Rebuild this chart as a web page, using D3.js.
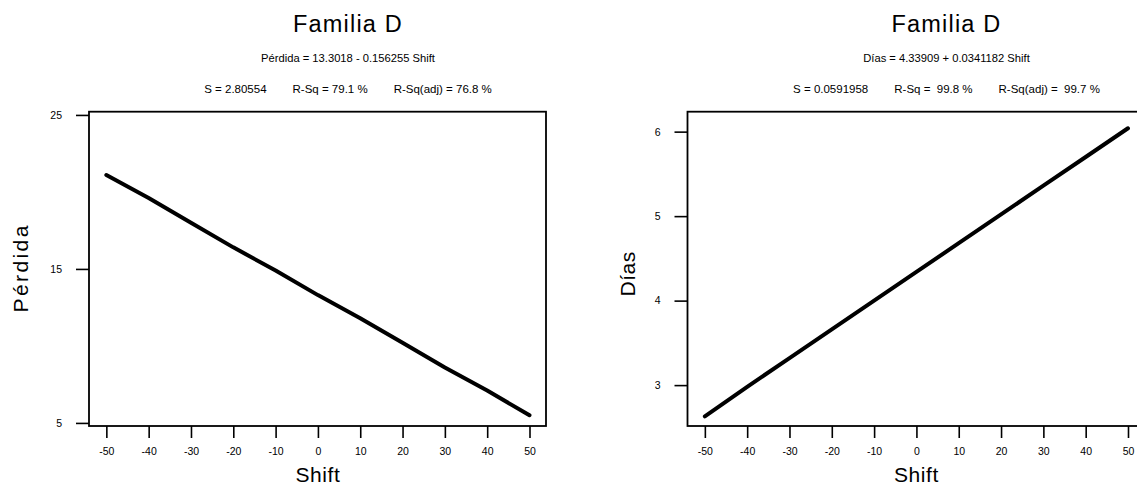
<!DOCTYPE html>
<html>
<head>
<meta charset="utf-8">
<script src="https://cdn.jsdelivr.net/npm/d3@7/dist/d3.min.js"></script>
<style>
  html, body { margin: 0; padding: 0; background: #fff; }
  svg { display: block; font-family: "Liberation Sans", Arial, sans-serif; }
</style>
</head>
<body>
<svg id="chart" width="1137" height="486"></svg>
<script>
// Fitted line plots for Familia D: Pérdida vs Shift and Días vs Shift
const shiftTicks = [-50, -40, -30, -20, -10, 0, 10, 20, 30, 40, 50];
const shiftValues = [-50, -40, -30, -20, -10, 0, 10, 20, 30, 40, 50];
const perdidaValues = [21.1, 19.6, 18.0, 16.4, 14.9, 13.3, 11.8, 10.2, 8.6, 7.1, 5.5];
const diasValues = [2.63, 2.98, 3.32, 3.66, 4.00, 4.34, 4.68, 5.02, 5.36, 5.70, 6.04];
const perdidaTicks = [5, 15, 25];
const diasTicks = [3, 4, 5, 6];

const titles = ["Familia D", "Familia D"];
const equations = [
  "Pérdida = 13.3018 - 0.156255 Shift",
  "Días = 4.33909 + 0.0341182 Shift"
];
const statsLines = [
  ["S = 2.80554", "R-Sq = 79.1 %", "R-Sq(adj) = 76.8 %"],
  ["S = 0.0591958", "R-Sq =  99.8 %", "R-Sq(adj) =  99.7 %"]
];
const yLabels = ["Pérdida", "Días"];
const xLabel = "Shift";

const svg = d3.select("#chart");

const panels = [
  { ox: 0, values: perdidaValues, ticks: perdidaTicks, yDomain: [4.8, 25.21],
    title: titles[0], eq: equations[0], stats: statsLines[0], yLabel: yLabels[0],
    yLabelX: 28, yLabelSpacing: 2.4 },
  { ox: 598.5, values: diasValues, ticks: diasTicks, yDomain: [2.516, 6.236],
    title: titles[1], eq: equations[1], stats: statsLines[1], yLabel: yLabels[1],
    yLabelX: 36, yLabelSpacing: 0.5 }
];

const frameTop = 111.7, frameBottom = 426;

panels.forEach(p => {
  const g = svg.append("g");
  const left = p.ox + 89, right = p.ox + 546;
  const x = d3.scaleLinear().domain([-54.1, 53.9]).range([left, right]);
  const y = d3.scaleLinear().domain(p.yDomain).range([frameBottom, frameTop]);
  const center = p.ox + 348;

  // titles
  g.append("text")
    .attr("x", center).attr("y", 32)
    .attr("text-anchor", "middle")
    .attr("font-size", 23.5)
    .attr("letter-spacing", 1.2)
    .text(p.title);

  g.append("text")
    .attr("x", center).attr("y", 62)
    .attr("text-anchor", "middle")
    .attr("font-size", 11.2)
    .text(p.eq);

  // statistics line: three items separated by fixed gaps, centred as a group
  const gap = 26;
  const items = p.stats.map(s => g.append("text")
    .attr("y", 92.5)
    .attr("font-size", 11.5)
    .style("white-space", "pre")
    .text(s));
  const widths = items.map(t => t.node().getComputedTextLength());
  const total = d3.sum(widths) + gap * (items.length - 1);
  let cx = center - total / 2;
  items.forEach((t, i) => { t.attr("x", cx); cx += widths[i] + gap; });

  // y axis
  const yAxis = g.append("g")
    .attr("transform", `translate(${left},0)`)
    .call(d3.axisLeft(y).tickValues(p.ticks).tickSize(13).tickPadding(14)
      .tickFormat(d => String(d)));
  yAxis.select(".domain").remove();
  yAxis.selectAll("line").attr("stroke", "#000").attr("stroke-width", 1.6);
  yAxis.selectAll("text").attr("font-size", 10.5).attr("fill", "#000")
    .attr("font-family", "Liberation Sans, Arial, sans-serif");

  // x axis
  const xAxis = g.append("g")
    .attr("transform", `translate(0,${frameBottom})`)
    .call(d3.axisBottom(x).tickValues(shiftTicks).tickSize(12).tickPadding(10)
      .tickFormat(d => String(d)));
  xAxis.select(".domain").remove();
  xAxis.selectAll("line").attr("stroke", "#000").attr("stroke-width", 1.6);
  xAxis.selectAll("text").attr("font-size", 10.5).attr("fill", "#000")
    .attr("font-family", "Liberation Sans, Arial, sans-serif");

  // frame
  g.append("rect")
    .attr("x", left).attr("y", frameTop)
    .attr("width", right - left).attr("height", frameBottom - frameTop)
    .attr("fill", "none").attr("stroke", "#000").attr("stroke-width", 1.8);

  // fitted line
  const line = d3.line()
    .x((d, i) => x(shiftValues[i]))
    .y(d => y(d));
  g.append("path")
    .datum(p.values)
    .attr("d", line)
    .attr("fill", "none")
    .attr("stroke", "#000")
    .attr("stroke-width", 4)
    .attr("stroke-linejoin", "round")
    .attr("stroke-linecap", "round");

  // axis titles
  g.append("text")
    .attr("x", x(0)).attr("y", 482)
    .attr("text-anchor", "middle")
    .attr("font-size", 21)
    .attr("letter-spacing", 0.6)
    .text(xLabel);

  const ly = (frameTop + frameBottom) / 2 + (p.ox ? 5 : -1);
  g.append("text")
    .attr("transform", `translate(${p.ox + p.yLabelX},${ly}) rotate(-90)`)
    .attr("text-anchor", "middle")
    .attr("font-size", 21)
    .attr("letter-spacing", p.yLabelSpacing)
    .text(p.yLabel);
});
</script>
</body>
</html>
